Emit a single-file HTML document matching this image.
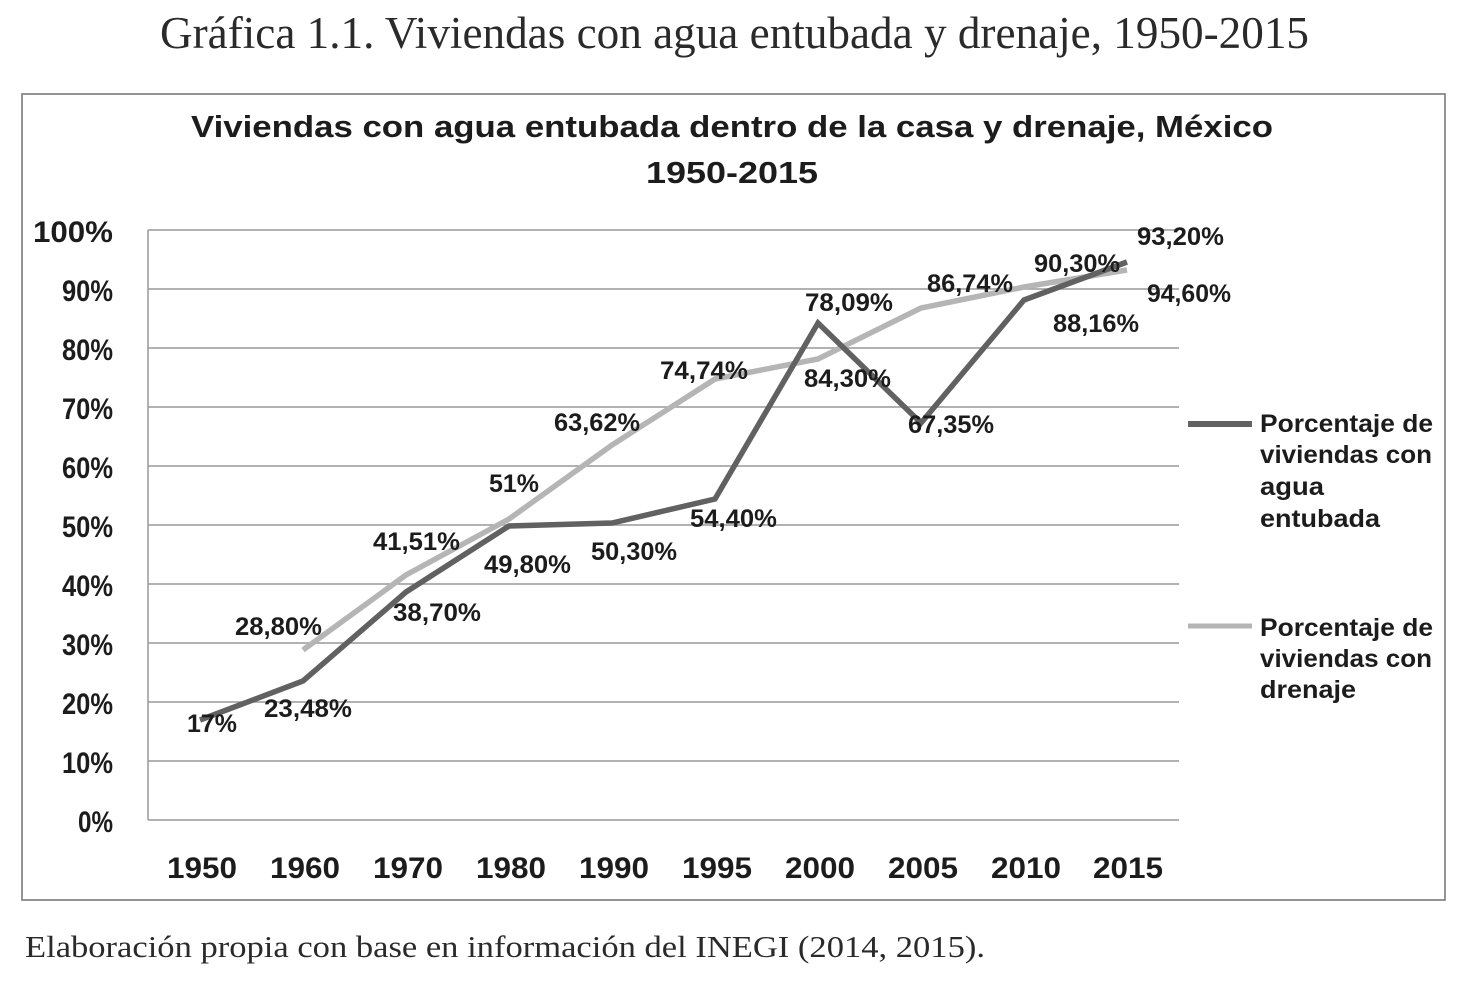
<!DOCTYPE html>
<html><head><meta charset="utf-8"><style>
html,body{margin:0;padding:0;background:#fff;}
svg{display:block;}
.serif{font-family:"Liberation Serif",serif;fill:#2a2a2a;}
.b{font-family:"Liberation Sans",sans-serif;font-weight:bold;fill:#1c1c1c;}
</style></head><body>
<svg width="1464" height="993" viewBox="0 0 1464 993" xmlns="http://www.w3.org/2000/svg">
<rect width="1464" height="993" fill="#fff"/>
<text class="serif" x="160" y="48" font-size="45" textLength="1149" lengthAdjust="spacingAndGlyphs">Gráfica 1.1. Viviendas con agua entubada y drenaje, 1950-2015</text>
<rect x="22" y="94" width="1423" height="806" fill="none" stroke="#7a7a7a" stroke-width="1.6"/>
<text class="b" x="191" y="137" font-size="31" textLength="1082" lengthAdjust="spacingAndGlyphs">Viviendas con agua entubada dentro de la casa y drenaje, México</text>
<text class="b" x="646" y="183" font-size="31" textLength="172" lengthAdjust="spacingAndGlyphs">1950-2015</text>
<g stroke="#999" stroke-width="1.5">
<line x1="148" y1="230" x2="1179" y2="230"/>
<line x1="148" y1="289" x2="1179" y2="289"/>
<line x1="148" y1="348" x2="1179" y2="348"/>
<line x1="148" y1="407" x2="1179" y2="407"/>
<line x1="148" y1="466" x2="1179" y2="466"/>
<line x1="148" y1="525" x2="1179" y2="525"/>
<line x1="148" y1="584" x2="1179" y2="584"/>
<line x1="148" y1="643" x2="1179" y2="643"/>
<line x1="148" y1="702" x2="1179" y2="702"/>
<line x1="148" y1="761" x2="1179" y2="761"/>
<line x1="148" y1="820" x2="1179" y2="820"/>
<line x1="148" y1="230" x2="148" y2="820"/>
</g>
<g class="b" font-size="30" text-anchor="end">
<text x="113" y="242" textLength="80" lengthAdjust="spacingAndGlyphs">100%</text>
<text x="113" y="301" textLength="51" lengthAdjust="spacingAndGlyphs">90%</text>
<text x="113" y="360" textLength="51" lengthAdjust="spacingAndGlyphs">80%</text>
<text x="113" y="419" textLength="51" lengthAdjust="spacingAndGlyphs">70%</text>
<text x="113" y="478" textLength="51" lengthAdjust="spacingAndGlyphs">60%</text>
<text x="113" y="537" textLength="51" lengthAdjust="spacingAndGlyphs">50%</text>
<text x="113" y="596" textLength="51" lengthAdjust="spacingAndGlyphs">40%</text>
<text x="113" y="655" textLength="51" lengthAdjust="spacingAndGlyphs">30%</text>
<text x="113" y="714" textLength="51" lengthAdjust="spacingAndGlyphs">20%</text>
<text x="113" y="773" textLength="51" lengthAdjust="spacingAndGlyphs">10%</text>
<text x="113" y="832" textLength="35" lengthAdjust="spacingAndGlyphs">0%</text>
</g>
<g class="b" font-size="30" text-anchor="middle">
<text x="202" y="878" textLength="70" lengthAdjust="spacingAndGlyphs">1950</text>
<text x="305" y="878" textLength="70" lengthAdjust="spacingAndGlyphs">1960</text>
<text x="408" y="878" textLength="70" lengthAdjust="spacingAndGlyphs">1970</text>
<text x="511" y="878" textLength="70" lengthAdjust="spacingAndGlyphs">1980</text>
<text x="614" y="878" textLength="70" lengthAdjust="spacingAndGlyphs">1990</text>
<text x="717" y="878" textLength="70" lengthAdjust="spacingAndGlyphs">1995</text>
<text x="820" y="878" textLength="70" lengthAdjust="spacingAndGlyphs">2000</text>
<text x="923" y="878" textLength="70" lengthAdjust="spacingAndGlyphs">2005</text>
<text x="1026" y="878" textLength="70" lengthAdjust="spacingAndGlyphs">2010</text>
<text x="1128" y="878" textLength="70" lengthAdjust="spacingAndGlyphs">2015</text>
</g>
<!-- drenaje (light) -->
<polyline fill="none" stroke="#b5b5b5" stroke-width="5.5" stroke-linejoin="miter" points="303,650 406,575 509,519 612,445 715,379 818,359 921,308 1024,287 1127,270"/>
<!-- agua (dark) -->
<polyline fill="none" stroke="#616161" stroke-width="5.5" stroke-linejoin="miter" points="200,720 303,681 406,592 509,526 612,523 715,499 818,323 921,423 1024,300 1127,262"/>
<g class="b" font-size="25">
<text x="187" y="732" textLength="50" lengthAdjust="spacingAndGlyphs">17%</text>
<text x="264" y="717" textLength="88" lengthAdjust="spacingAndGlyphs">23,48%</text>
<text x="235" y="635" textLength="87" lengthAdjust="spacingAndGlyphs">28,80%</text>
<text x="393" y="621" textLength="88" lengthAdjust="spacingAndGlyphs">38,70%</text>
<text x="373" y="550" textLength="87" lengthAdjust="spacingAndGlyphs">41,51%</text>
<text x="484" y="573" textLength="87" lengthAdjust="spacingAndGlyphs">49,80%</text>
<text x="489" y="492" textLength="50" lengthAdjust="spacingAndGlyphs">51%</text>
<text x="591" y="560" textLength="86" lengthAdjust="spacingAndGlyphs">50,30%</text>
<text x="554" y="431" textLength="86" lengthAdjust="spacingAndGlyphs">63,62%</text>
<text x="690" y="527" textLength="87" lengthAdjust="spacingAndGlyphs">54,40%</text>
<text x="660" y="379" textLength="88" lengthAdjust="spacingAndGlyphs">74,74%</text>
<text x="805" y="311" textLength="88" lengthAdjust="spacingAndGlyphs">78,09%</text>
<text x="804" y="387" textLength="87" lengthAdjust="spacingAndGlyphs">84,30%</text>
<text x="927" y="292" textLength="86" lengthAdjust="spacingAndGlyphs">86,74%</text>
<text x="908" y="433" textLength="86" lengthAdjust="spacingAndGlyphs">67,35%</text>
<text x="1034" y="272" textLength="86" lengthAdjust="spacingAndGlyphs">90,30%</text>
<text x="1053" y="332" textLength="86" lengthAdjust="spacingAndGlyphs">88,16%</text>
<text x="1137" y="245" textLength="87" lengthAdjust="spacingAndGlyphs">93,20%</text>
<text x="1147" y="302" textLength="84" lengthAdjust="spacingAndGlyphs">94,60%</text>
</g>
<line x1="1188" y1="424" x2="1252" y2="424" stroke="#616161" stroke-width="6"/>
<line x1="1188" y1="626" x2="1252" y2="626" stroke="#b5b5b5" stroke-width="5"/>
<g class="b" font-size="25">
<text x="1260" y="432" textLength="173" lengthAdjust="spacingAndGlyphs">Porcentaje de</text>
<text x="1260" y="463" textLength="172" lengthAdjust="spacingAndGlyphs">viviendas con</text>
<text x="1260" y="495" textLength="64" lengthAdjust="spacingAndGlyphs">agua</text>
<text x="1260" y="527" textLength="120" lengthAdjust="spacingAndGlyphs">entubada</text>
<text x="1260" y="636" textLength="173" lengthAdjust="spacingAndGlyphs">Porcentaje de</text>
<text x="1260" y="667" textLength="172" lengthAdjust="spacingAndGlyphs">viviendas con</text>
<text x="1260" y="698" textLength="96" lengthAdjust="spacingAndGlyphs">drenaje</text>
</g>
<text class="serif" x="25" y="957" font-size="31" textLength="960" lengthAdjust="spacingAndGlyphs">Elaboración propia con base en información del INEGI (2014, 2015).</text>
</svg>
</body></html>
